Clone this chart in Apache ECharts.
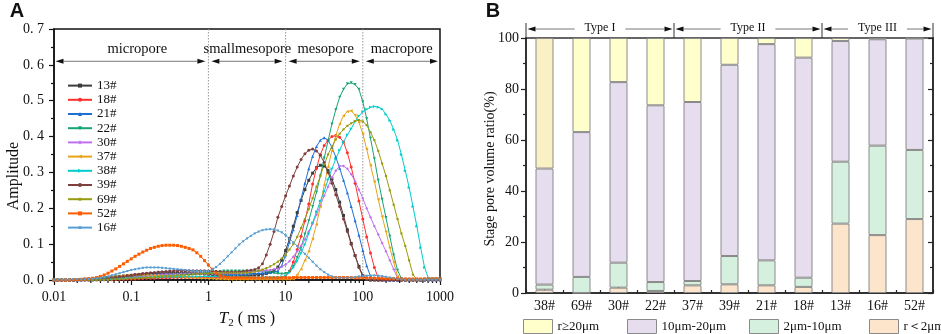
<!DOCTYPE html>
<html><head><meta charset="utf-8">
<script src="https://cdn.jsdelivr.net/npm/echarts@6/dist/echarts.min.js"></script>
<style>html,body{margin:0;padding:0;background:#fff}#c{width:941px;height:334px}</style>
</head><body><div id="c"></div>
<script>
// ---------- Panel A data: T2 sample grid (log-spaced, 20 per decade, 0.01..1000 ms)
const t2Grid = Array.from({length: 101}, (_, i) => +Math.pow(10, -2 + i / 20).toPrecision(4));

const s13 = [0,0,0,0,0,0,0.001,0.001,0.002,0.002,
 0.003,0.004,0.005,0.006,0.007,0.008,0.009,0.010,0.011,0.012,
 0.013,0.014,0.015,0.016,0.017,0.018,0.018,0.019,0.019,0.020,
 0.020,0.020,0.020,0.020,0.020,0.019,0.019,0.018,0.018,0.017,
 0.016,0.015,0.014,0.013,0.012,0.012,0.011,0.011,0.011,0.012,
 0.012,0.013,0.014,0.015,0.016,0.018,0.021,0.026,0.036,0.055,
 0.082,0.115,0.150,0.188,0.222,0.252,0.278,0.298,0.313,0.320,
 0.318,0.305,0.282,0.252,0.217,0.180,0.140,0.102,0.068,0.038,
 0.012,0.002,0,0,0,0,0,0,0,0,
 0,0,0,0,0,0,0.002,0.003,0.003,0.003,0.003];
const s18 = [0,0,0,0,0,0,0,0,0,0,
 0,0,0,0.001,0.001,0.001,0.002,0.002,0.002,0.003,
 0.003,0.003,0.004,0.004,0.005,0.005,0.005,0.006,0.006,0.006,
 0.006,0.007,0.007,0.007,0.007,0.007,0.007,0.007,0.007,0.007,
 0.007,0.007,0.007,0.006,0.006,0.006,0.006,0.006,0.006,0.006,
 0.006,0.006,0.006,0.006,0.006,0.006,0.006,0.006,0.006,0.007,
 0.010,0.025,0.050,0.085,0.122,0.165,0.212,0.268,0.312,0.350,
 0.375,0.390,0.400,0.403,0.398,0.385,0.355,0.315,0.270,0.220,
 0.170,0.120,0.075,0.035,0.006,0,0,0,0,0,
 0,0,0,0,0,0,0,0.002,0.002,0.002,0.002];
const s21 = [0,0,0,0,0,0,0,0,0.001,0.001,
 0.001,0.002,0.002,0.003,0.004,0.005,0.006,0.007,0.008,0.009,
 0.010,0.011,0.012,0.013,0.014,0.015,0.015,0.016,0.016,0.017,
 0.017,0.017,0.018,0.018,0.018,0.018,0.018,0.018,0.018,0.018,
 0.018,0.018,0.017,0.017,0.016,0.016,0.016,0.016,0.016,0.017,
 0.017,0.018,0.018,0.019,0.019,0.020,0.021,0.022,0.025,0.040,
 0.070,0.105,0.140,0.180,0.225,0.270,0.310,0.345,0.372,0.390,
 0.397,0.390,0.370,0.343,0.312,0.278,0.243,0.205,0.165,0.125,
 0.082,0.040,0.010,0.002,0,0,0,0,0,0,
 0,0,0,0,0,0,0,0,0,0,0];
const s22 = [0,0,0,0,0,0,0,0,0,0,
 0,0,0,0.001,0.001,0.002,0.002,0.003,0.003,0.004,
 0.004,0.005,0.005,0.006,0.006,0.007,0.008,0.008,0.009,0.010,
 0.011,0.012,0.013,0.014,0.015,0.016,0.017,0.018,0.019,0.020,
 0.021,0.022,0.023,0.024,0.025,0.025,0.025,0.025,0.025,0.025,
 0.025,0.025,0.025,0.025,0.025,0.024,0.022,0.020,0.018,0.017,
 0.018,0.024,0.038,0.063,0.090,0.128,0.165,0.205,0.245,0.290,
 0.340,0.388,0.435,0.475,0.510,0.532,0.547,0.550,0.545,0.532,
 0.497,0.450,0.395,0.338,0.278,0.225,0.174,0.122,0.070,0.027,
 0.004,0,0,0,0,0,0,0,0,0,0];
const s30 = [0,0,0,0,0,0,0,0,0,0,
 0.001,0.001,0.002,0.002,0.003,0.003,0.004,0.005,0.005,0.006,
 0.007,0.008,0.009,0.010,0.011,0.012,0.013,0.014,0.015,0.016,
 0.016,0.017,0.017,0.018,0.018,0.018,0.018,0.018,0.018,0.018,
 0.018,0.018,0.018,0.018,0.018,0.018,0.019,0.019,0.020,0.021,
 0.022,0.023,0.024,0.025,0.026,0.027,0.028,0.030,0.032,0.037,
 0.043,0.052,0.065,0.080,0.095,0.113,0.135,0.157,0.182,0.208,
 0.235,0.260,0.285,0.305,0.318,0.318,0.310,0.295,0.275,0.252,
 0.228,0.200,0.175,0.150,0.127,0.103,0.080,0.055,0.030,0.006,
 0,0,0,0,0,0,0,0,0,0,0];
const s37 = [0,0,0,0,0,0.001,0.001,0.002,0.002,0.003,
 0.004,0.005,0.006,0.007,0.008,0.009,0.010,0.011,0.012,0.013,
 0.013,0.014,0.014,0.014,0.014,0.014,0.013,0.013,0.012,0.012,
 0.011,0.010,0.010,0.009,0.008,0.007,0.007,0.006,0.005,0.005,
 0.004,0.004,0.003,0.003,0.003,0.002,0.002,0.002,0.002,0.002,
 0.002,0.002,0.002,0.002,0.002,0.002,0.002,0.002,0.002,0.002,
 0.002,0.002,0.003,0.015,0.030,0.055,0.080,0.115,0.155,0.205,
 0.265,0.315,0.360,0.403,0.435,0.458,0.470,0.472,0.460,0.440,
 0.408,0.365,0.320,0.275,0.225,0.178,0.135,0.090,0.050,0.010,
 0,0,0,0,0,0,0.002,0.003,0.003,0.003,0.003];
const s38 = [0,0,0,0,0,0,0,0,0,0,
 0.001,0.001,0.002,0.002,0.003,0.003,0.004,0.004,0.005,0.005,
 0.006,0.006,0.007,0.007,0.008,0.008,0.008,0.009,0.009,0.009,
 0.009,0.009,0.010,0.010,0.010,0.010,0.010,0.010,0.010,0.010,
 0.010,0.010,0.010,0.010,0.010,0.010,0.009,0.009,0.009,0.009,
 0.009,0.009,0.008,0.008,0.008,0.008,0.008,0.008,0.008,0.009,
 0.012,0.020,0.035,0.053,0.075,0.100,0.130,0.160,0.190,0.220,
 0.247,0.280,0.310,0.338,0.362,0.385,0.405,0.422,0.442,0.458,
 0.469,0.476,0.482,0.484,0.482,0.477,0.462,0.445,0.420,0.390,
 0.350,0.305,0.258,0.205,0.150,0.090,0.035,0.005,0.003,0.003,0.003];
const s39 = [0,0,0,0,0,0,0,0.001,0.001,0.001,
 0.002,0.002,0.003,0.004,0.005,0.006,0.007,0.009,0.010,0.012,
 0.013,0.015,0.016,0.018,0.019,0.020,0.021,0.022,0.023,0.024,
 0.025,0.025,0.026,0.026,0.026,0.026,0.026,0.026,0.026,0.026,
 0.025,0.025,0.024,0.023,0.022,0.022,0.022,0.022,0.023,0.024,
 0.026,0.027,0.029,0.034,0.045,0.070,0.100,0.135,0.175,0.205,
 0.235,0.262,0.290,0.315,0.336,0.352,0.362,0.365,0.360,0.348,
 0.328,0.300,0.270,0.238,0.205,0.170,0.135,0.100,0.068,0.035,
 0.010,0.002,0,0,0,0,0,0,0,0,
 0,0,0,0,0,0,0,0,0,0,0];
const s69 = [0,0,0,0,0,0,0,0,0,0,
 0,0,0.001,0.001,0.001,0.002,0.002,0.003,0.003,0.004,
 0.004,0.005,0.005,0.006,0.007,0.007,0.008,0.009,0.010,0.011,
 0.011,0.012,0.013,0.014,0.015,0.015,0.016,0.017,0.017,0.018,
 0.018,0.019,0.019,0.019,0.020,0.020,0.020,0.020,0.020,0.020,
 0.020,0.021,0.023,0.026,0.029,0.033,0.038,0.044,0.051,0.060,
 0.070,0.085,0.100,0.120,0.145,0.170,0.198,0.228,0.260,0.290,
 0.322,0.350,0.372,0.392,0.408,0.420,0.430,0.437,0.443,0.446,
 0.442,0.432,0.412,0.390,0.360,0.325,0.290,0.250,0.210,0.170,
 0.130,0.095,0.055,0.015,0.002,0,0.002,0.003,0.003,0.003,0.003];
const s52 = [0,0,0,0,0,0.001,0.001,0.002,0.003,0.004,
 0.005,0.007,0.010,0.014,0.019,0.025,0.031,0.038,0.045,0.052,
 0.059,0.066,0.072,0.078,0.083,0.088,0.091,0.094,0.096,0.097,
 0.097,0.097,0.096,0.094,0.091,0.088,0.084,0.076,0.066,0.054,
 0.042,0.030,0.019,0.012,0.009,0.007,0.006,0.006,0.006,0.006,
 0.006,0.006,0.006,0.006,0.006,0.006,0.006,0.006,0.006,0.006,
 0.006,0.006,0.007,0.007,0.007,0.007,0.007,0.007,0.007,0.007,
 0.007,0.007,0.007,0.007,0.007,0.007,0.007,0.007,0.006,0.006,
 0.006,0.006,0.006,0.005,0.005,0.005,0.004,0.004,0.004,0.004,
 0.003,0.003,0.003,0.003,0.003,0.003,0.003,0.003,0.003,0.003,0.003];
const s16 = [0.001,0.001,0.001,0.001,0.001,0.002,0.002,0.002,0.003,0.003,
 0.004,0.005,0.006,0.008,0.010,0.013,0.016,0.019,0.022,0.025,
 0.028,0.030,0.032,0.034,0.035,0.035,0.035,0.035,0.034,0.033,
 0.032,0.031,0.030,0.029,0.028,0.027,0.026,0.025,0.025,0.025,
 0.025,0.029,0.036,0.045,0.055,0.066,0.077,0.088,0.099,0.108,
 0.116,0.123,0.130,0.135,0.139,0.141,0.142,0.141,0.138,0.133,
 0.125,0.115,0.105,0.095,0.084,0.073,0.062,0.051,0.040,0.030,
 0.022,0.015,0.010,0.007,0.006,0.006,0.006,0.007,0.008,0.010,
 0.011,0.012,0.013,0.013,0.012,0.011,0.009,0.007,0.005,0.003,
 0.002,0.001,0.001,0.001,0.001,0.001,0.001,0.001,0.001,0.001,0.001];

const sampleNames = ['13#','18#','21#','22#','30#','37#','38#','39#','69#','52#','16#'];
const sampleCurves = [s13, s18, s21, s22, s30, s37, s38, s39, s69, s52, s16];
const xTickLabels = ['0.01','0.1','1','10','100','1000'];
const poreClasses = ['micropore','smallmesopore','mesopore','macropore'];
const poreBounds = [0.01, 1, 10, 100, 1000];

// ---------- Panel B data
const barCats = ['38#','69#','30#','22#','37#','39#','21#','18#','13#','16#','52#'];
const lt2    = [1.3, 0.0, 2.1, 0.8, 3.0, 3.4, 3.0, 2.4, 27.2, 22.7, 29.0];
const r2to10 = [2.0, 6.3, 9.8, 3.5, 1.7, 11.1, 9.8, 3.6, 24.3, 35.1, 27.1];
const r10to20= [45.5, 56.8, 70.8, 69.3, 70.2, 75.0, 84.8, 86.3, 47.3, 41.7, 43.7];
const ge20   = [51.2, 36.9, 17.3, 26.4, 25.1, 10.5, 2.4, 7.7, 1.2, 0.5, 0.2];
const typeGroups = [['Type I', 0, 4], ['Type II', 4, 8], ['Type III', 8, 11]];
const stageNames = ['r≥20μm', '10μm-20μm', '2μm-10μm', 'r＜2μm'];

// ---------- styles
const SERIF = '"Liberation Serif","Times New Roman",serif';
const lineColors = ['#3c3c3c','#ff3030','#1f6fd6','#16a572','#c070f0','#e8a317','#00cccc','#7f3f3f','#9a9a10','#ff5c00','#5a9fd4'];
const lineSymbols = [['rect',0],['circle',0],['triangle',0],['triangle',180],['diamond',0],['triangle',90],['triangle',-90],['circle',0],['diamond',45],['rect',0],['diamond',45]];
const stageColors = {'r≥20μm':'#ffffcc','10μm-20μm':'#e6ddef','2μm-10μm':'#d5f0de','r＜2μm':'#fde5cc'};

const chart = echarts.init(document.getElementById('c'), null, {renderer: 'canvas'});

const lineSeries = sampleCurves.map((arr, k) => ({
  name: sampleNames[k], type: 'line', xAxisIndex: 0, yAxisIndex: 0,
  data: arr.map((v, i) => [t2Grid[i], v]),
  symbol: lineSymbols[k][0], symbolRotate: lineSymbols[k][1], symbolSize: 3,
  showSymbol: true, lineStyle: {width: 1, color: lineColors[k]},
  itemStyle: {color: lineColors[k]}, emphasis: {disabled: true}
}));

const barSeries = [
  {name: 'r＜2μm', data: lt2},
  {name: '2μm-10μm', data: r2to10},
  {name: '10μm-20μm', data: r10to20},
  {name: 'r≥20μm', data: ge20.map((v, i) => i === 0 ? {value: v, itemStyle: {color: '#f9f0c4'}} : v)}
].map(s => ({
  name: s.name, type: 'bar', stack: 'p', xAxisIndex: 1, yAxisIndex: 1, barWidth: 18,
  data: s.data, itemStyle: {color: stageColors[s.name], borderColor: '#8a8a8a', borderWidth: 1},
  emphasis: {disabled: true}
}));

const legendB = stageNames.map((n, k) => ({
  data: [n], left: [523, 627, 749, 869][k], top: 319, padding: 0, itemWidth: 29, itemHeight: 14,
  icon: 'rect', itemStyle: {borderColor: '#8a8a8a', borderWidth: 1},
  textStyle: {fontFamily: SERIF, fontSize: 13, color: '#111'}
}));

const axisLineA = {show: true, lineStyle: {color: '#111', width: 1.5}};
const option = {
  animation: false,
  backgroundColor: '#fff',
  grid: [
    {left: 54, top: 29, width: 386, height: 254, show: true, borderColor: '#111', borderWidth: 1.5, backgroundColor: 'transparent'},
    {left: 526, top: 38, width: 407, height: 255, show: true, borderColor: '#333', borderWidth: 1.5, backgroundColor: 'transparent'}
  ],
  legend: [{
    data: sampleNames, orient: 'vertical', left: 67, top: 78.6, padding: 0, itemWidth: 24, itemHeight: 5, itemGap: 0.2,
    textStyle: {fontFamily: SERIF, fontSize: 13, color: '#111', lineHeight: 14}
  }].concat(legendB),
  xAxis: [
    {gridIndex: 0, type: 'log', logBase: 10, min: 0.01, max: 1000, splitNumber: 5,
     axisLine: axisLineA, axisTick: {show: true, length: 5, lineStyle: {color: '#111', width: 1.2}},
     splitLine: {show: false}, minorTick: {show: false},
     axisLabel: {fontFamily: SERIF, fontSize: 14, color: '#111', margin: 10,
       formatter: v => { const s = xTickLabels.find(t => Math.abs(+t - v) / v < 1e-6); return s || String(v); }},
     name: '{t|T}{s|2}{n| ( ms )}', nameLocation: 'middle', nameGap: 29,
     nameTextStyle: {rich: {
       t: {fontFamily: SERIF, fontStyle: 'italic', fontSize: 17, color: '#111'},
       s: {fontFamily: SERIF, fontSize: 11, color: '#111', padding: [9, 0, 0, 0]},
       n: {fontFamily: SERIF, fontSize: 16, color: '#111'}}}},
    {gridIndex: 1, type: 'category', data: barCats,
     axisLine: {show: true, lineStyle: {color: '#222', width: 1.5}},
     axisTick: {show: true, alignWithLabel: true, inside: true, length: 6, lineStyle: {color: '#222', width: 1.2}},
     axisLabel: {fontFamily: SERIF, fontSize: 14, color: '#111', margin: 6}},
    {gridIndex: 1, type: 'value', position: 'bottom', min: 0, max: 11, interval: 1,
     axisLine: {show: false}, axisLabel: {show: false}, splitLine: {show: false},
     axisTick: {show: true, inside: true, length: 3, lineStyle: {color: '#222', width: 1.2}}}
  ],
  yAxis: [
    {gridIndex: 0, type: 'value', min: 0, max: 0.7, interval: 0.1,
     axisLine: axisLineA, axisTick: {show: true, length: 5, lineStyle: {color: '#111', width: 1.2}},
     minorTick: {show: true, splitNumber: 2, length: 3, lineStyle: {color: '#111', width: 1.2}},
     splitLine: {show: false},
     axisLabel: {fontFamily: SERIF, fontSize: 14, color: '#111', margin: 10,
       formatter: v => v.toFixed(1).replace('.', '. ')}},
    {gridIndex: 1, type: 'value', min: 0, max: 100, interval: 20,
     axisLine: {show: true, lineStyle: {color: '#222', width: 1.5}},
     axisTick: {show: true, length: 5, lineStyle: {color: '#222', width: 1.2}},
     minorTick: {show: true, splitNumber: 2, length: 3, lineStyle: {color: '#222', width: 1.2}},
     splitLine: {show: false},
     axisLabel: {fontFamily: SERIF, fontSize: 14, color: '#111', margin: 7}},
    {gridIndex: 1, type: 'value', position: 'right', min: 0, max: 100, interval: 20,
     axisLine: {show: true, lineStyle: {color: '#222', width: 1.5}},
     axisTick: {show: true, inside: true, length: 5, lineStyle: {color: '#222', width: 1.2}},
     minorTick: {show: true, splitNumber: 2, length: 3, lineStyle: {color: '#222', width: 1.2}},
     splitLine: {show: false}, axisLabel: {show: false}}
  ],
  series: lineSeries.concat(barSeries)
};
chart.setOption(option);

// ---------- annotations positioned through the axes
const px = v => chart.convertToPixel({xAxisIndex: 0}, v);
const py = v => chart.convertToPixel({yAxisIndex: 0}, v);
const bx = v => chart.convertToPixel({xAxisIndex: 2}, v);
const by = v => chart.convertToPixel({yAxisIndex: 1}, v);
const G = [];
function head(x, y, dir, hl, hw) {
  G.push({type: 'polygon', shape: {points: [[x, y], [x + dir * hl, y - hw], [x + dir * hl, y + hw]]}, style: {fill: '#111'}});
}
function seg(x1, x2, y, left, right, hl, hw) {
  G.push({type: 'line', shape: {x1: x1 + (left ? hl : 0), y1: y, x2: x2 - (right ? hl : 0), y2: y}, style: {stroke: '#777', lineWidth: 1}});
  if (left) head(x1, y, 1, hl, hw);
  if (right) head(x2, y, -1, hl, hw);
}
function text(t, x, y, font, extra) {
  G.push(Object.assign({type: 'text', x: x, y: y, style: {text: t, font: font, fill: '#111',
    textAlign: 'center', textVerticalAlign: 'middle', align: 'center', verticalAlign: 'middle'}}, extra || {}));
}
// minor log ticks on the T2 axis
const y0 = py(0);
for (let d = -2; d <= 2; d++) for (let k = 2; k <= 9; k++) {
  const x = px(k * Math.pow(10, d));
  G.push({type: 'line', shape: {x1: x, y1: y0, x2: x, y2: y0 + 3}, style: {stroke: '#111', lineWidth: 1.2}});
}
// dotted boundaries
[1, 10, 100].forEach(b => {
  G.push({type: 'line', shape: {x1: px(b), y1: py(0.7), x2: px(b), y2: y0}, style: {stroke: '#999', lineWidth: 1, lineDash: [1.5, 1.5]}});
});
// pore class arrows and labels
const labelT = [0.12, 3.2, 33, 320];
const arrowY = py(0.61);
for (let k = 0; k < 4; k++) {
  const xa = px(poreBounds[k]) + (k === 0 ? 1.5 : 3);
  const xb = px(poreBounds[k + 1]) - (k === 3 ? 2 : 3);
  seg(xa, xb, arrowY, true, true, 8, 2.6);
  text(poreClasses[k], px(labelT[k]), py(0.645), '14.5px ' + SERIF);
}
// Panel B type groups
const ctx = document.createElement('canvas').getContext('2d');
const typeFont = '12px ' + SERIF;
ctx.font = typeFont;
const topB = by(100);
const tY = topB - 9;
[0, 4, 8, 11].forEach(v => {
  G.push({type: 'line', shape: {x1: bx(v), y1: topB - 15, x2: bx(v), y2: topB}, style: {stroke: '#333', lineWidth: 1}});
});
typeGroups.forEach(g => {
  const xl = bx(g[1]) + 1.5, xr = bx(g[2]) - 1.5, xc = (bx(g[1]) + bx(g[2])) / 2;
  const half = ctx.measureText(g[0]).width / 2 + 10;
  seg(xl, xc - half, tY, true, false, 8, 2.6);
  seg(xc + half, xr, tY, false, true, 8, 2.6);
  text(g[0], xc, tY - 1, typeFont);
});
// axis titles and panel letters
text('Amplitude', 14, 176, '16px ' + SERIF, {rotation: Math.PI / 2});
text('Stage pore volume ratio(%)', 490, 169, '14px ' + SERIF, {rotation: Math.PI / 2});
text('A', 17, 11, 'bold 20px "Liberation Sans",Arial,sans-serif');
text('B', 493, 11, 'bold 20px "Liberation Sans",Arial,sans-serif');
chart.setOption({graphic: {elements: G}});
</script>
</body></html>
